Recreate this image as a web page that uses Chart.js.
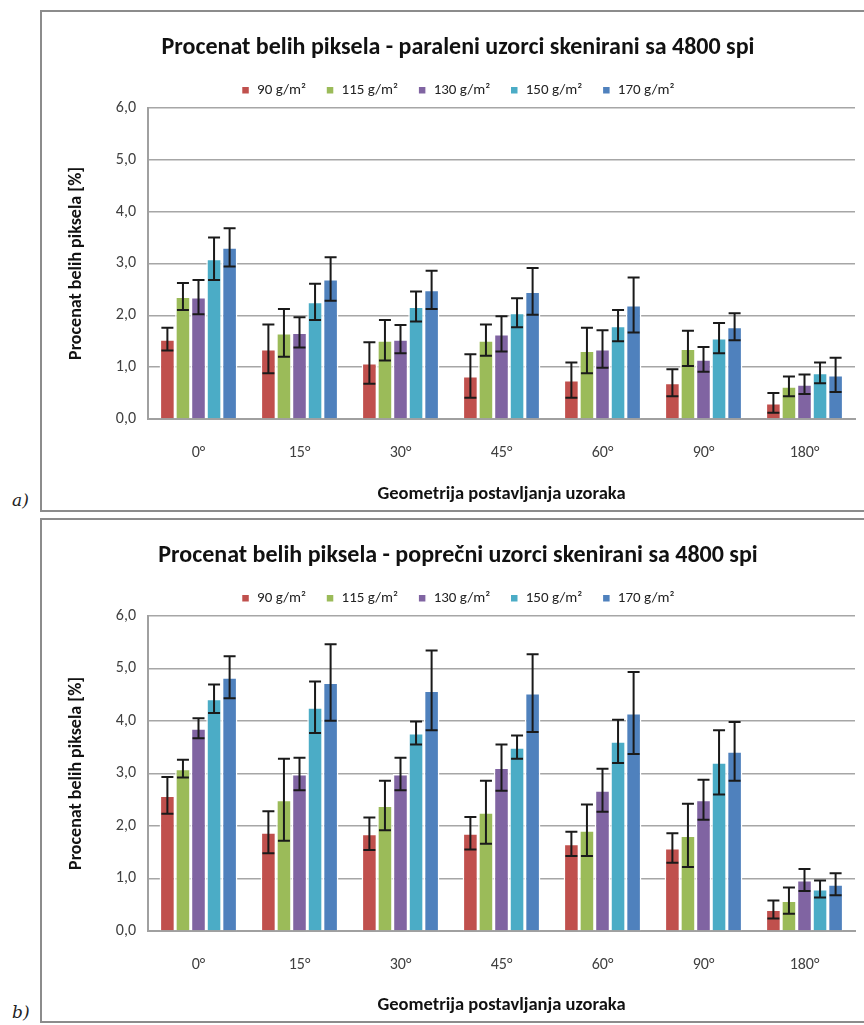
<!DOCTYPE html>
<html lang="sr">
<head>
<meta charset="UTF-8">
<title>Procenat belih piksela</title>
<script src="https://cdn.jsdelivr.net/npm/chart.js@4.4.1/dist/chart.umd.min.js"></script>
<style>
  html, body { margin: 0; padding: 0; background: #fff; overflow: hidden; }
  body { width: 864px; height: 1025px; position: relative; }
  .frame { position: absolute; left: 40px; width: 840px; border: 2px solid #8c8c8c; box-sizing: border-box; }
  .frame canvas { display: block; }
  .tag { position: absolute; left: 12px; font-family: "DejaVu Serif", serif; font-style: italic; font-size: 17px; color: #222; }
</style>
</head>
<body>
  <div class="frame" style="top:10px; height:502px;"><canvas id="chartA" width="836" height="498"></canvas></div>
  <div class="tag" style="top:490px;">a)</div>
  <div class="frame" style="top:518px; height:505px;"><canvas id="chartB" width="836" height="501"></canvas></div>
  <div class="tag" style="top:1002px;">b)</div>
<script>
  const categories = ['0°', '15°', '30°', '45°', '60°', '90°', '180°'];
  const seriesNames = ['90 g/m²', '115 g/m²', '130 g/m²', '150 g/m²', '170 g/m²'];
  const colors = ['#C0504D', '#9BBB59', '#8064A2', '#4BACC6', '#4F81BD'];
  const yTicks = [0, 1, 2, 3, 4, 5, 6];

  // a) paralelni uzorci
  const a90 = [1.54, 1.35, 1.08, 0.83, 0.75, 0.70, 0.31];
  const a115 = [2.36, 1.66, 1.52, 1.52, 1.32, 1.36, 0.63];
  const a130 = [2.35, 1.67, 1.54, 1.64, 1.35, 1.15, 0.67];
  const a150 = [3.09, 2.26, 2.17, 2.05, 1.80, 1.56, 0.89];
  const a170 = [3.31, 2.70, 2.49, 2.46, 2.20, 1.78, 0.85];
  const a90err = [0.22, 0.47, 0.40, 0.42, 0.34, 0.26, 0.19];
  const a115err = [0.26, 0.46, 0.39, 0.30, 0.44, 0.34, 0.19];
  const a130err = [0.33, 0.29, 0.27, 0.34, 0.36, 0.24, 0.19];
  const a150err = [0.41, 0.35, 0.29, 0.28, 0.30, 0.29, 0.20];
  const a170err = [0.37, 0.42, 0.37, 0.45, 0.53, 0.26, 0.33];

  // b) poprecni uzorci
  const b90 = [2.58, 1.88, 1.85, 1.86, 1.66, 1.58, 0.41];
  const b115 = [3.09, 2.50, 2.39, 2.26, 1.92, 1.82, 0.58];
  const b130 = [3.86, 2.99, 2.99, 3.11, 2.68, 2.50, 0.97];
  const b150 = [4.42, 4.26, 3.77, 3.50, 3.61, 3.21, 0.80];
  const b170 = [4.83, 4.73, 4.58, 4.53, 4.15, 3.42, 0.89];
  const b90err = [0.35, 0.40, 0.31, 0.31, 0.23, 0.28, 0.17];
  const b115err = [0.17, 0.78, 0.47, 0.60, 0.49, 0.60, 0.25];
  const b130err = [0.19, 0.31, 0.31, 0.44, 0.41, 0.38, 0.21];
  const b150err = [0.27, 0.49, 0.22, 0.22, 0.41, 0.61, 0.16];
  const b170err = [0.40, 0.73, 0.76, 0.74, 0.78, 0.56, 0.21];

  const FONT = 'Carlito, Lato, "Open Sans", sans-serif';

  // draws the error bars over each bar, using the chart's own y scale
  const errorBars = {
    id: 'errorBars',
    afterDatasetsDraw(chart) {
      const ctx = chart.ctx;
      const y = chart.scales.y;
      chart.data.datasets.forEach((ds, i) => {
        const meta = chart.getDatasetMeta(i);
        meta.data.forEach((bar, j) => {
          const v = ds.data[j], e = ds.errors[j];
          const top = y.getPixelForValue(v + e);
          const bot = y.getPixelForValue(v - e);
          ctx.save();
          ctx.strokeStyle = '#1a1a1a';
          ctx.lineWidth = 2;
          ctx.beginPath();
          ctx.moveTo(bar.x, top); ctx.lineTo(bar.x, bot);
          ctx.moveTo(bar.x - 6, top); ctx.lineTo(bar.x + 6, top);
          ctx.moveTo(bar.x - 6, bot); ctx.lineTo(bar.x + 6, bot);
          ctx.stroke();
          ctx.restore();
        });
      });
    }
  };

  function makeChart(id, title, values, errors, xHeight) {
    return new Chart(document.getElementById(id), {
      type: 'bar',
      data: {
        labels: categories,
        datasets: seriesNames.map((name, i) => ({
          label: name,
          data: values[i],
          errors: errors[i],
          backgroundColor: colors[i],
          borderColor: '#ffffff',
          borderWidth: 1.5,
          categoryPercentage: 0.77,
          barPercentage: 1.0
        }))
      },
      options: {
        responsive: false,
        animation: false,
        layout: { padding: { left: 19, right: 23, top: 0, bottom: 0 } },
        plugins: {
          title: {
            display: true,
            text: title,
            color: '#111',
            font: { family: FONT, size: 24, weight: 'bold' },
            padding: { top: 22, bottom: 0 }
          },
          legend: {
            display: true,
            labels: {
              color: '#222',
              font: { family: FONT, size: 15 },
              boxWidth: 8,
              boxHeight: 8,
              padding: 20
            }
          },
          tooltip: { enabled: false }
        },
        scales: {
          x: {
            grid: { display: false, drawTicks: false },
            border: { display: true, color: '#a0a0a0', width: 2 },
            ticks: { color: '#404040', font: { family: FONT, size: 16 }, padding: 24 },
            title: {
              display: true,
              text: 'Geometrija postavljanja uzoraka',
              color: '#111',
              font: { family: FONT, size: 18.5, weight: 'bold' },
              padding: { top: 0, bottom: 5 }
            },
            afterFit(axis) { axis.height = xHeight; }
          },
          y: {
            min: 0,
            max: 6,
            afterBuildTicks(axis) { axis.ticks = yTicks.map(v => ({ value: v })); },
            grid: { color: '#a6a6a6', lineWidth: 1.5, drawTicks: false },
            border: { display: true, color: '#a0a0a0', width: 2 },
            ticks: {
              color: '#404040',
              font: { family: FONT, size: 16 },
              padding: 12,
              callback: v => v.toFixed(1).replace('.', ',')
            },
            title: {
              display: true,
              text: 'Procenat belih piksela [%]',
              color: '#111',
              font: { family: FONT, size: 18, weight: 'bold' },
              padding: { top: 5, bottom: 0 }
            },
            afterFit(axis) { axis.width = 87; }
          }
        }
      },
      plugins: [errorBars]
    });
  }

  makeChart('chartA', 'Procenat belih piksela - paraleni uzorci skenirani sa 4800 spi',
    [a90, a115, a130, a150, a170], [a90err, a115err, a130err, a150err, a170err], 91);
  makeChart('chartB', 'Procenat belih piksela - poprečni uzorci skenirani sa 4800 spi',
    [b90, b115, b130, b150, b170], [b90err, b115err, b130err, b150err, b170err], 90);
</script>
</body>
</html>
